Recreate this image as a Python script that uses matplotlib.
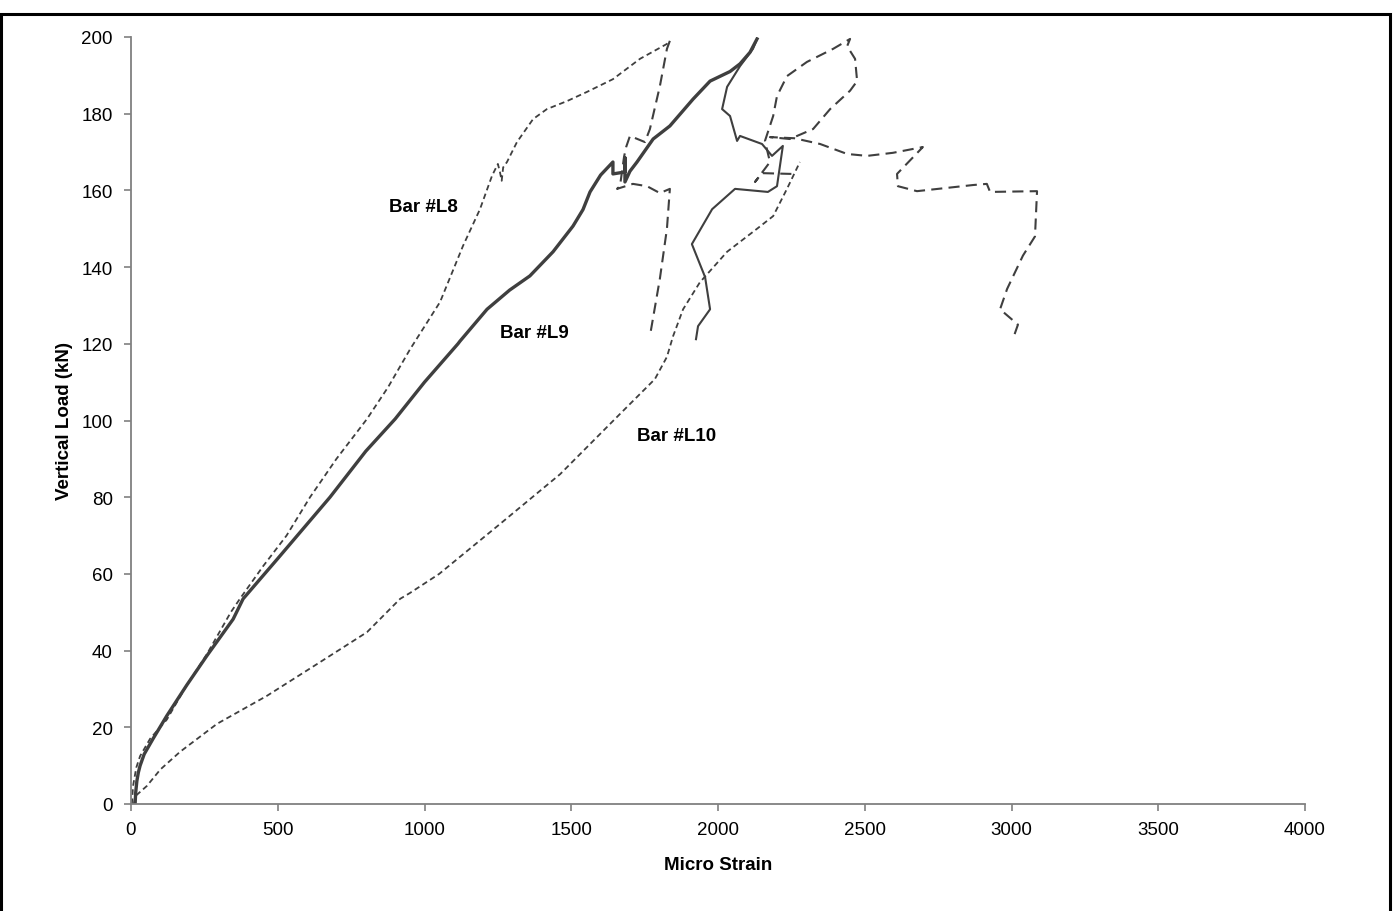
import matplotlib
matplotlib.use("Agg")
import matplotlib.pyplot as plt
from matplotlib.patches import Rectangle

plt.rcParams["font.family"] = ["Liberation Sans", "DejaVu Sans"]
plt.rcParams["lines.scale_dashes"] = False

# ---- Bar #L8 ----
l8_load_x = [3, 7, 18, 31, 65, 122, 190, 258, 340, 371, 450, 530, 610, 700, 804, 876, 951,
             1053, 1131, 1189, 1230, 1250, 1257, 1263, 1268, 1281, 1315, 1370, 1417, 1486,
             1554, 1642, 1734, 1826, 1836]
l8_load_y = [0, 4.7, 9.5, 12.5, 17, 22, 31, 39, 50, 53.5, 62, 70, 80, 90, 100.4, 108.7, 118.6,
             130.9, 145.5, 155.1, 163.8, 166.9, 164.8, 162.5, 166.0, 167.4, 172.6, 178.6, 181.2, 183.3,
             185.7, 189, 194.3, 198.2, 199]
l8_post_x = [1836, 1826, 1802, 1768, 1751, 1700, 1687, 1680, 1666, 1656, 1710, 1758, 1802,
             1836, 1826, 1802, 1768]
l8_post_y = [199, 196.9, 187.2, 176, 172.6, 174.2, 171.3, 168.8, 161.1, 160.4, 161.7, 161.1, 159.3,
             160.4, 150, 137, 122]

# ---- Bar #L9 ----
l9_load_x = [14, 16, 20, 25, 31, 45, 75, 122, 190, 258, 348, 382, 500, 678, 800, 900, 1000, 1114,
             1121, 1213, 1290, 1359, 1438, 1506, 1540, 1564, 1600, 1642, 1642, 1683, 1683, 1683, 1700,
             1724, 1779, 1836, 1915, 1973, 2041, 2075, 2109, 2133]
l9_load_y = [0, 3, 6, 8.2, 10, 13, 17, 23, 31, 38.6, 48.2, 53.5, 64, 80, 92, 100.4, 110, 120,
             120.7, 129, 134, 137.7, 144, 150.7, 155, 159.6, 164, 167.4, 164.3, 164.8, 168.5, 162.2, 165,
             167.4, 173.4, 176.8, 183.8, 188.5, 191, 193, 196, 199.5]
l9_post_x = [2133, 2119, 2075, 2031, 2014, 2041, 2065, 2075, 2150, 2184, 2221, 2201, 2170,
             2058, 1980, 1911, 1956, 1973, 1932, 1925]
l9_post_y = [199.5, 196.9, 192.4, 187, 181.2, 179.4, 172.9, 174.2, 172.1, 169, 171.6, 161.1, 159.6,
             160.4, 155.1, 146, 137.4, 129, 124.6, 121.2]

# ---- Bar #L10 ----
l10_load_x = [10, 14, 54, 100, 167, 293, 463, 634, 804, 917, 950, 1050, 1257, 1462, 1666, 1785,
              1826, 1847, 1881, 1938, 2031, 2133, 2188, 2235, 2279]
l10_load_y = [0, 2, 4.7, 9, 13.6, 20.9, 28.2, 36.5, 44.8, 53.5, 55, 60, 73, 86, 101.7, 110.8,
              116.6, 122, 129, 136, 144, 150, 153.3, 160.4, 167.4]
l10_post_x = [2250, 2150, 2126, 2177, 2160, 2188, 2201, 2235, 2303, 2392, 2450, 2440, 2467, 2474,
              2450, 2382, 2324, 2245, 2177, 2260, 2348, 2440, 2508, 2596, 2698, 2610, 2613, 2678,
              2869, 2916, 2927, 3087, 3080, 3039, 2985, 2961, 3022, 3005]
l10_post_y = [164.3, 164.5, 162.2, 167.4, 172.9, 179.4, 184.6, 189.8, 193.5, 196.9, 199.5, 197.6, 194.3, 188.5,
              186, 181.2, 176, 173.4, 173.9, 173.6, 172.1, 169.5, 169, 169.8, 171.3, 164.3, 161.1, 159.8,
              161.4, 161.7, 159.6, 159.8, 148, 143, 134.3, 129, 125, 121.3]

labels = ["Bar #L8", "Bar #L9", "Bar #L10"]
label_x = [998, 1376, 1860]
label_y = [155.7, 123, 96.2]

x_ticks = [0, 500, 1000, 1500, 2000, 2500, 3000, 3500, 4000]
y_ticks = [0, 20, 40, 60, 80, 100, 120, 140, 160, 180, 200]

line_col = "#3f3f3f"
short_dash = (0, (4.0, 2.6))
long_dash = (0, (8.0, 4.5))
fs = 13.5

fig = plt.figure(figsize=(13.93, 9.12), dpi=100)
ax = fig.add_axes([131 / 1393, 1 - 805 / 912, (1305 - 131) / 1393, (805 - 38) / 912])

ax.plot(l8_load_x, l8_load_y, color=line_col, lw=1.3, linestyle=short_dash)
ax.plot(l8_post_x, l8_post_y, color=line_col, lw=1.5, linestyle=long_dash)
ax.plot(l9_load_x, l9_load_y, color=line_col, lw=2.4, solid_joinstyle="round")
ax.plot(l9_post_x, l9_post_y, color=line_col, lw=1.5, solid_joinstyle="round")
ax.plot(l10_load_x, l10_load_y, color=line_col, lw=1.3, linestyle=short_dash)
ax.plot(l10_post_x, l10_post_y, color=line_col, lw=1.5, linestyle=long_dash)

for t, xv, yv in zip(labels, label_x, label_y):
    ax.text(xv, yv, t, fontsize=fs, fontweight="bold", ha="center", va="center")

ax.set_xlim(0, 4000)
ax.set_ylim(0, 200)
ax.set_xticks(x_ticks)
ax.set_yticks(y_ticks)
ax.tick_params(axis="both", direction="out", length=5, width=1.2, color="#808080",
               labelsize=fs, labelcolor="black")
ax.tick_params(axis="x", pad=7)
ax.tick_params(axis="y", pad=8)
for s in ["top", "right"]:
    ax.spines[s].set_visible(False)
for s in ["left", "bottom"]:
    ax.spines[s].set_color("#808080")
    ax.spines[s].set_linewidth(1.3)

ax.set_xlabel("Micro Strain", fontsize=fs, fontweight="bold", labelpad=13)
ax.set_ylabel("Vertical Load (kN)", fontsize=fs, fontweight="bold", labelpad=6)

# frame around the chart area
fig.patches.append(Rectangle((1 / 1393, -0.01), 1389 / 1393, 1.01 - 15 / 912,
                             transform=fig.transFigure, fill=False,
                             edgecolor="black", linewidth=2.2))

fig.savefig("out.png", dpi=100)
